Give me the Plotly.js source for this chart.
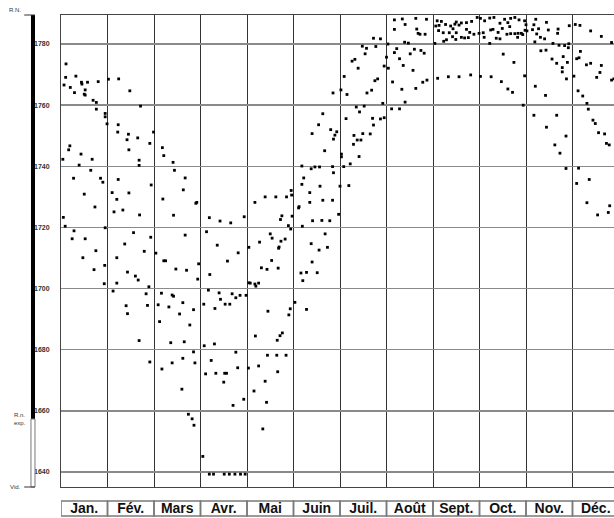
<!DOCTYPE html>
<html><head><meta charset="utf-8">
<script src="https://cdn.plot.ly/plotly-3.0.1.min.js"></script>
<style>html,body{margin:0;padding:0;overflow:hidden;background:#fff;}</style>
</head><body><div id="chart"></div>
<script>
// Month labels and y ticks
const months = ["Jan.","Fév.","Mars","Avr.","Mai","Juin","Juil.","Août","Sept.","Oct.","Nov.","Déc."];
const yTicks = [1640,1660,1680,1700,1720,1740,1760,1780];

// Position in the year (in months, 0 = 1 Jan) and level
const janPos = [0.108,0.10,0.065,0.2,0.29,0.32,0.44,0.45,0.57,0.52,0.50,0.52,0.80,0.69,0.76,0.76,0.95,0.95,0.99,0.19,0.165,0.43,0.67,0.04,0.39,0.64,0.27,0.85,0.90,0.50,0.73,0.05,0.09,0.28,0.24,0.52,0.75,0.47,0.71,0.94,0.93,0.95];
const janVal = [1773.5,1769.1,1766.6,1765.8,1764.1,1769.5,1767.5,1766.9,1767.5,1765.0,1763.6,1763.3,1767.7,1761.6,1760.9,1758.7,1757.3,1756.2,1753.9,1746.7,1745.4,1744.0,1742.3,1742.3,1740.4,1738.7,1736.1,1736.1,1734.8,1730.9,1726.7,1723.3,1720.4,1718.9,1716.3,1716.3,1712.4,1710.1,1706.2,1707.6,1701.6,1719.9];

const febPos = [1.02,1.24,1.48,1.71,1.23,1.22,1.45,1.42,1.65,1.46,1.99,1.91,1.68,1.68,1.23,1.10,1.46,1.20,1.14,1.33,1.69,1.94,1.56,1.93,1.37,1.79,1.20,1.43,1.60,1.66,1.20,1.12,1.89,1.40,1.43,1.83,1.86,1.68,1.91];
const febVal = [1768.5,1768.6,1764.7,1759.7,1753.6,1751.2,1750.5,1748.7,1749.3,1745.4,1751.2,1747.5,1742.0,1740.3,1735.7,1731.4,1731.3,1729.2,1725.1,1725.7,1724.1,1733.9,1718.3,1716.8,1714.6,1712.2,1710.1,1705.4,1704.1,1702.8,1701.8,1699.2,1700.6,1694.4,1691.8,1698.3,1694.5,1683.0,1676.0];

const marPos = [2.18,2.21,2.41,2.19,2.44,2.67,2.63,2.90,2.92,2.42,2.67,2.04,2.21,2.25,2.47,2.70,2.96,2.94,2.16,2.39,2.42,2.62,2.09,2.32,2.85,2.55,2.12,2.77,2.36,2.65,2.17,2.39,2.62,2.85,2.88,2.60,2.74,2.82,2.86];
const marVal = [1746.1,1743.5,1741.3,1729.3,1738.7,1736.2,1732.3,1727.9,1728.2,1724.0,1717.5,1711.6,1709.1,1709.1,1706.4,1706.0,1708.1,1703.1,1698.5,1697.9,1697.5,1695.4,1694.7,1694.0,1693.1,1691.7,1689.2,1688.1,1682.3,1682.6,1673.7,1675.7,1677.2,1679.3,1675.7,1667.1,1658.9,1657.4,1655.3];

const aprPos = [3.19,3.42,3.65,3.94,3.13,3.36,3.81,3.58,3.20,3.17,3.40,3.68,3.76,3.85,3.98,3.43,3.07,3.53,3.63,3.31,3.08,3.30,3.23,3.11,3.33,3.52,3.56,3.50,3.76,3.80,3.70,3.93,3.05,3.19,3.28,3.51,3.62,3.74,3.86,3.96];
const aprVal = [1723.2,1722.1,1721.5,1723.5,1718.6,1714.2,1711.7,1709.0,1704.6,1699.5,1698.6,1698.3,1697.0,1697.8,1697.8,1696.5,1694.9,1694.9,1694.9,1693.5,1681.3,1681.9,1676.5,1672.1,1672.3,1672.3,1672.3,1669.4,1679.2,1674.1,1661.8,1663.8,1645.1,1639.3,1639.3,1639.3,1639.3,1639.3,1639.3,1639.3];

const mayPos = [4.04,4.04,4.03,4.50,4.54,4.82,4.73,4.27,4.69,4.68,4.53,4.31,4.43,4.67,4.07,4.17,4.19,4.25,4.93,4.45,4.90,4.76,4.71,4.65,4.18,4.44,4.64,4.84,4.25,4.66,4.39,4.15,4.42,4.34,4.95,4.96,4.17,4.39,4.62,4.85,4.75,4.72,4.97,4.89,4.94];
const mayVal = [1713.5,1701.9,1674.0,1717.9,1716.5,1716.2,1715.5,1715.2,1713.6,1713.2,1709.2,1706.8,1706.3,1706.7,1701.8,1701.5,1700.8,1701.8,1693.4,1692.6,1691.4,1685.5,1684.6,1683.1,1684.5,1678.2,1678.2,1678.2,1674.7,1672.8,1669.7,1666.5,1662.8,1654.1,1732.1,1730.6,1728.2,1730.0,1730.0,1730.0,1723.8,1722.6,1723.7,1720.6,1719.5];

const junPos = [5.68,5.38,5.73,5.55,5.40,5.16,5.28,5.51,5.20,5.03,5.28,5.63,5.54,5.40,5.67,5.18,5.38,5.46,5.56,5.22,5.18,5.57,5.35,5.35,5.63,5.12,5.11,5.19,5.41,5.61,5.78,5.97,5.80,5.93,5.89,5.86,5.85,5.84,5.86,5.84];
const junVal = [1717.9,1714.7,1713.5,1712.6,1708.7,1705.1,1705.3,1705.2,1702.6,1695.5,1693.2,1757.2,1753.6,1750.7,1745.1,1740.1,1739.2,1739.8,1739.8,1736.2,1734.1,1733.5,1731.4,1728.2,1728.9,1726.8,1726.4,1720.4,1722.2,1722.3,1722.2,1724.3,1752.0,1751.3,1750.2,1748.9,1764.0,1739.9,1737.9,1728.9];

const julPos = [6.72,6.87,6.48,6.57,6.77,6.54,6.26,6.32,6.39,6.95,6.09,6.81,6.75,6.02,6.15,6.58,6.68,6.92,6.35,6.52,6.42,6.13,6.70,6.72,6.95,6.87,6.30,6.49,6.65,6.37,6.45,6.29,6.03,6.03,6.41,6.22,6.08,6.00,6.19];
const julVal = [1781.9,1781.7,1779.3,1778.6,1779.2,1776.8,1774.4,1775.0,1772.1,1772.8,1769.4,1768.6,1768.0,1765.0,1763.5,1764.0,1764.9,1760.6,1759.4,1759.7,1757.8,1755.6,1755.7,1753.5,1755.9,1755.5,1750.1,1750.7,1750.6,1748.6,1748.6,1747.2,1744.0,1743.1,1743.2,1740.8,1739.9,1733.5,1733.7];

const augPos = [7.17,7.34,7.63,7.86,7.40,7.17,7.65,7.68,7.83,7.72,7.03,7.39,7.47,7.22,7.17,7.60,7.74,7.51,7.81,7.00,7.28,7.36,7.04,7.57,7.13,7.87,7.78,7.33,7.63,7.40,7.11,7.28];
const augVal = [1787.9,1788.2,1788.4,1788.1,1786.4,1784.8,1784.9,1783.5,1783.2,1783.2,1780.0,1780.6,1780.3,1778.5,1777.2,1778.3,1777.9,1776.8,1777.0,1775.7,1775.2,1773.0,1772.1,1771.4,1767.6,1768.2,1767.5,1765.2,1765.5,1761.0,1758.8,1758.8];

const lateTopPos = [8.04,8.09,8.18,8.06,8.13,8.27,8.38,8.47,8.50,8.61,8.56,8.72,8.83,8.95,9.02,9.11,9.22,9.31,9.44,9.54,9.67,9.76,9.61,9.85,9.97,10.00,10.21,10.17,10.44,10.27,10.48,10.69,10.68,10.93,11.06,11.16,11.39,11.62,11.84,8.12,8.22,8.35,8.43,8.50,8.72,8.79,8.23,8.29,8.42,8.49,8.61,8.68,8.76,8.88,8.99,9.08,9.10,9.24,9.29,9.40,9.49,9.36,9.44,9.59,9.67,9.76,9.83,9.90,9.93,9.98,10.02,9.82,9.65,10.14,10.23,10.31,10.40,10.19,10.58,10.71,10.83,10.92,10.91,9.22];
const lateTopVal = [1780.2,1787.6,1787.4,1785.9,1786.1,1786.4,1785.9,1786.5,1787.2,1786.9,1786.2,1787.0,1787.4,1788.7,1788.4,1787.6,1788.5,1788.7,1786.8,1788.1,1788.4,1788.7,1787.0,1787.9,1787.6,1786.3,1788.1,1786.3,1787.1,1785.0,1784.6,1784.9,1783.5,1786.0,1786.4,1786.1,1784.3,1782.5,1780.5,1784.4,1783.7,1783.7,1785.0,1783.7,1784.8,1783.8,1780.9,1781.4,1782.4,1781.5,1782.2,1782.0,1782.1,1783.2,1783.5,1783.7,1782.2,1784.6,1784.8,1783.8,1785.1,1781.9,1781.7,1783.2,1783.4,1783.4,1783.5,1783.5,1783.1,1784.5,1784.3,1782.2,1785.7,1784.7,1783.3,1782.2,1781.7,1780.7,1780.2,1779.6,1779.5,1780.1,1778.8,1780.2];

const lateLowPos = [9.51,9.74,10.32,10.43,10.56,10.66,10.80,10.89,11.17,11.09,11.14,11.30,11.39,11.62,10.78,10.78,8.10,8.33,8.56,8.81,9.02,9.25,9.97,9.47,9.61,9.71,9.94,10.20,10.42,10.87,11.03,11.59,11.52,11.84,11.89,11.12,11.22,11.31,11.34,10.17,10.66,10.44,11.44,11.49,11.56,11.69,11.73,11.79,10.86,10.62,10.73,10.86,11.13,11.09,11.36,11.31,11.80,11.54,11.77];
const lateLowVal = [1776.7,1774.0,1777.8,1778.0,1775.1,1773.7,1775.9,1774.0,1777.6,1775.2,1775.5,1773.2,1773.7,1773.0,1772.3,1770.9,1768.8,1769.3,1769.3,1769.9,1769.4,1769.3,1769.6,1767.7,1765.3,1764.2,1760.0,1766.2,1763.2,1768.6,1769.5,1770.7,1769.1,1768.2,1768.6,1764.7,1763.0,1760.6,1758.7,1756.7,1756.7,1752.8,1755.1,1754.0,1751.0,1750.6,1747.5,1747.0,1749.9,1747.0,1744.3,1739.3,1739.4,1734.4,1735.7,1728.1,1727.1,1724.1,1724.9];

const xs = [].concat(janPos,febPos,marPos,aprPos,mayPos,junPos,julPos,augPos,lateTopPos,lateLowPos);
const ys = [].concat(janVal,febVal,marVal,aprVal,mayVal,junVal,julVal,augVal,lateTopVal,lateLowVal);

const monthCenters = months.map((m,i)=>i+0.5);
const monthEdges = months.map((m,i)=>i).concat([months.length]);

const shapes = [];
// month label boxes
months.forEach((m,i)=>{
  shapes.push({type:'rect', xref:'x', yref:'paper', x0:i, x1:i+1, y0:-0.0614, y1:-0.0297,
    line:{color:'#7a7a7a', width:1.5}, fillcolor:'rgba(0,0,0,0)'});
});
// left scale bar
shapes.push({type:'rect', xref:'paper', yref:'paper', x0:-0.0538, x1:-0.0466, y0:0.144, y1:1,
  line:{width:0}, fillcolor:'#000'});
shapes.push({type:'rect', xref:'paper', yref:'paper', x0:-0.0538, x1:-0.0466, y0:0, y1:0.144,
  line:{color:'#777', width:1}, fillcolor:'#fff'});
shapes.push({type:'line', xref:'paper', yref:'paper', x0:-0.066, x1:-0.0466, y0:1, y1:1,
  line:{color:'#333', width:1}});
shapes.push({type:'line', xref:'paper', yref:'paper', x0:-0.066, x1:-0.0466, y0:0, y1:0,
  line:{color:'#333', width:1}});

const annFont = {family:'Arial, Liberation Sans, sans-serif', size:6, color:'#333'};
const annotations = [
  {text:'R.N.', xref:'paper', yref:'paper', x:-0.068, y:1.0, xanchor:'right', yanchor:'bottom', showarrow:false, font:annFont},
  {text:'R.n.<br>exp.', xref:'paper', yref:'paper', x:-0.06, y:0.145, xanchor:'right', yanchor:'middle', showarrow:false, font:annFont, align:'left'},
  {text:'Vid.', xref:'paper', yref:'paper', x:-0.068, y:0.0, xanchor:'right', yanchor:'middle', showarrow:false, font:annFont}
];

const trace = {x:xs, y:ys, type:'scatter', mode:'markers',
  marker:{symbol:'square', size:2.8, color:'#000', line:{width:0}}, hoverinfo:'skip'};

const layout = {
  width:622, height:518,
  margin:{l:61, r:3, t:15, b:31},
  paper_bgcolor:'#fff', plot_bgcolor:'#fff',
  showlegend:false,
  xaxis:{range:[0,12], tickvals:monthCenters, ticktext:months, showgrid:false, zeroline:false,
    ticks:'', ticklabelstandoff:8,
    tickfont:{family:'Arial, Liberation Sans, sans-serif', size:14, color:'#111', weight:'bold'},
    showline:true, mirror:true, linecolor:'#444', linewidth:1,
    minor:{tickvals:monthEdges, showgrid:true, gridcolor:'#333', gridwidth:1, ticks:''}},
  yaxis:{range:[1635.1,1789.5], tickvals:yTicks, ticktext:yTicks.map(v=>'-'+v),
    showgrid:true, gridcolor:'#8a8a8a', gridwidth:1.5, zeroline:false, ticks:'', ticklabelstandoff:9,
    tickfont:{family:'Arial, Liberation Sans, sans-serif', size:7, color:'#333', weight:'bold'},
    showline:true, mirror:true, linecolor:'#444', linewidth:1},
  shapes:shapes, annotations:annotations
};

Plotly.newPlot('chart',[trace],layout,{displayModeBar:false, staticPlot:true});
</script></body></html>
